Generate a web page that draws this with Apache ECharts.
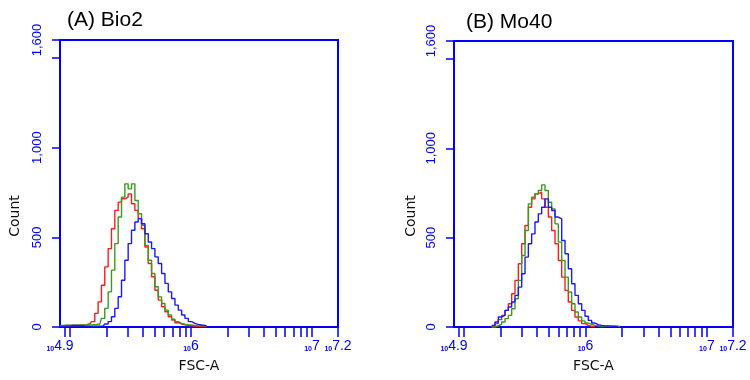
<!DOCTYPE html>
<html>
<head>
<meta charset="utf-8">
<title>FSC-A histograms</title>
<script src="https://cdn.jsdelivr.net/npm/echarts@6/dist/echarts.min.js"></script>
<style>
  html, body { margin: 0; padding: 0; background: #fff; }
  #chart { width: 750px; height: 380px; }
</style>
</head>
<body>
<div id="chart"></div>
<script>
const bioLogFsc = [4.915, 4.970, 5.025, 5.080, 5.135, 5.163, 5.191, 5.218, 5.246, 5.273, 5.301, 5.329, 5.356, 5.384, 5.412, 5.439, 5.467, 5.494, 5.522, 5.550, 5.577, 5.605, 5.633, 5.660, 5.688, 5.715, 5.743, 5.771, 5.798, 5.826, 5.853, 5.881, 5.909, 5.936, 5.964, 5.992, 6.019, 6.047, 6.074, 6.102, 6.130];
const bioRed = [6, 8, 8, 10, 12, 18, 30, 76, 140, 233, 335, 437, 548, 650, 696, 715, 724, 742, 687, 650, 604, 548, 446, 354, 280, 205, 150, 113, 85, 57, 39, 24, 17, 12, 9, 7, 5, 4, 3, 2, 2];
const bioGreen = [8, 10, 10, 12, 12, 12, 13, 14, 17, 48, 104, 196, 317, 465, 613, 724, 798, 770, 798, 705, 631, 567, 455, 372, 298, 224, 168, 131, 94, 67, 43, 30, 20, 16, 13, 11, 9, 8, 8, 7, 6];
const bioBlue = [3, 5, 8, 6, 5, 4, 4, 4, 5, 5, 17, 30, 57, 104, 169, 261, 372, 465, 539, 585, 604, 576, 520, 474, 437, 391, 354, 298, 243, 196, 159, 122, 94, 67, 48, 30, 20, 15, 11, 8, 5];

const moLogFsc = [5.213, 5.241, 5.268, 5.296, 5.323, 5.351, 5.378, 5.406, 5.433, 5.461, 5.488, 5.516, 5.543, 5.570, 5.598, 5.625, 5.653, 5.680, 5.708, 5.735, 5.763, 5.790, 5.818, 5.845, 5.872, 5.900, 5.927, 5.955, 5.982, 6.010, 6.037, 6.065, 6.092, 6.120, 6.147, 6.175, 6.202, 6.230, 6.257, 6.284];
const moRed = [null, 0, 19, 41, 65, 93, 130, 186, 261, 354, 466, 568, 670, 717, 745, 754, 717, 670, 615, 540, 466, 372, 279, 205, 140, 93, 56, 34, 19, 9, 4, 2, null, null, null, null, null, null, null, null];
const moGreen = [null, 0, 7, 15, 28, 47, 65, 102, 158, 261, 400, 540, 689, 726, 745, 764, 795, 764, 698, 661, 577, 475, 372, 279, 196, 130, 84, 56, 34, 22, 15, 9, 7, 6, 5, 5, 4, 4, 4, 3];
const moBlue = [null, 9, 28, 56, 65, 93, 112, 140, 177, 223, 298, 391, 466, 521, 587, 633, 670, 717, 670, 652, 615, 605, 484, 410, 326, 242, 177, 130, 93, 60, 37, 22, 13, 9, 7, 6, 4, 4, 2, null];

const panelTitles = ["(A) Bio2", "(B) Mo40"];

// x axis: log10 range and its labels
const xMin = 4.917;
const xMax = 7.215;
const xLabelValues = [xMin, 6, 7, xMax];
const xLabelExps = ["4.9", "6", "7", "7.2"];
const decades = [4, 5, 6, 7];
const multiples = [1, 2, 3, 4, 5, 6, 7, 8, 9];

// y axis
const yMax = 1600;
const yTickValues = [0, 500, 1000, 1500, 1600];
const yLabelValues = [0, 500, 1000, 1600];

const axisBlue = "#0000ff";
const fontFam = "'Liberation Sans', Arial, sans-serif";

let xTickValues = [];
decades.forEach(function (d) {
  multiples.forEach(function (m) {
    const v = d + Math.log10(m);
    if (v >= xMin - 0.001 && v <= xMax + 0.001) xTickValues.push(v);
  });
});
xTickValues.push(xMax);

function pairs(xs, ys) {
  return xs.map(function (x, i) { return [x, ys[i]]; });
}

function withCommas(v) {
  return String(v).replace(/\B(?=(\d{3})+(?!\d))/g, ",");
}

function makeX(idx) {
  return {
    type: "value",
    gridIndex: idx,
    min: xMin,
    max: xMax,
    name: "FSC-A",
    nameLocation: "middle",
    nameGap: 32,
    nameTextStyle: { color: "#111", fontSize: 14, fontFamily: "'DejaVu Sans', sans-serif" },
    axisLine: { show: true, lineStyle: { color: axisBlue, width: 2 } },
    axisTick: {
      show: true,
      length: 10,
      customValues: xTickValues,
      lineStyle: { color: axisBlue, width: 1.5 },
    },
    axisLabel: {
      customValues: xLabelValues,
      margin: 12,
      formatter: function (v) {
        const i = xLabelValues.findIndex(function (lv) { return Math.abs(lv - v) < 1e-6; });
        return "{s|10}{e|" + (i >= 0 ? xLabelExps[i] : "") + "}";
      },
      rich: {
        s: { fontSize: 7, fontWeight: "bold", color: axisBlue, fontFamily: fontFam, verticalAlign: "bottom" },
        e: { fontSize: 14, color: axisBlue, fontFamily: fontFam, verticalAlign: "bottom" },
      },
    },
    splitLine: { show: false },
  };
}

function makeY(idx) {
  return {
    type: "value",
    gridIndex: idx,
    min: 0,
    max: yMax,
    axisLine: { show: true, lineStyle: { color: axisBlue, width: 2 } },
    axisTick: {
      show: true,
      length: 8,
      customValues: yTickValues,
      lineStyle: { color: axisBlue, width: 1.5 },
    },
    axisLabel: {
      customValues: yLabelValues,
      rotate: 90,
      margin: 16,
      color: axisBlue,
      fontSize: 13,
      fontFamily: fontFam,
      formatter: withCommas,
    },
    splitLine: { show: false },
  };
}

function makeLine(idx, xs, ys, color) {
  return {
    type: "line",
    xAxisIndex: idx,
    yAxisIndex: idx,
    data: pairs(xs, ys),
    step: "middle",
    showSymbol: false,
    connectNulls: false,
    lineStyle: { color: color, width: 1.4 },
    itemStyle: { color: color },
  };
}

const chart = echarts.init(document.getElementById("chart"));

const options = {
  animation: false,
  backgroundColor: "#ffffff",
  title: [
    { text: panelTitles[0], left: 62, top: 5, textStyle: { fontSize: 21, fontWeight: "normal", color: "#000", fontFamily: fontFam } },
    { text: panelTitles[1], left: 461, top: 7, textStyle: { fontSize: 21, fontWeight: "normal", color: "#000", fontFamily: fontFam } },
  ],
  grid: [
    { left: 60, top: 40, width: 278, height: 287, show: true, borderColor: axisBlue, borderWidth: 2, backgroundColor: "transparent" },
    { left: 454, top: 41, width: 279, height: 286, show: true, borderColor: axisBlue, borderWidth: 2, backgroundColor: "transparent" },
  ],
  xAxis: [makeX(0), makeX(1)],
  yAxis: [makeY(0), makeY(1)],
  graphic: [
    { type: "text", x: 15, y: 216, rotation: Math.PI / 2, style: { text: "Count", fill: "#111", font: "14px 'DejaVu Sans', sans-serif", align: "center", verticalAlign: "middle" } },
    { type: "text", x: 411, y: 216, rotation: Math.PI / 2, style: { text: "Count", fill: "#111", font: "14px 'DejaVu Sans', sans-serif", align: "center", verticalAlign: "middle" } },
  ],
  series: [
    makeLine(0, bioLogFsc, bioRed, "#ff1a1a"),
    makeLine(0, bioLogFsc, bioGreen, "#3a9a1e"),
    makeLine(0, bioLogFsc, bioBlue, "#1a1aff"),
    makeLine(1, moLogFsc, moRed, "#ff1a1a"),
    makeLine(1, moLogFsc, moGreen, "#3a9a1e"),
    makeLine(1, moLogFsc, moBlue, "#1a1aff"),
  ],
};

chart.setOption(options);
</script>
</body>
</html>
